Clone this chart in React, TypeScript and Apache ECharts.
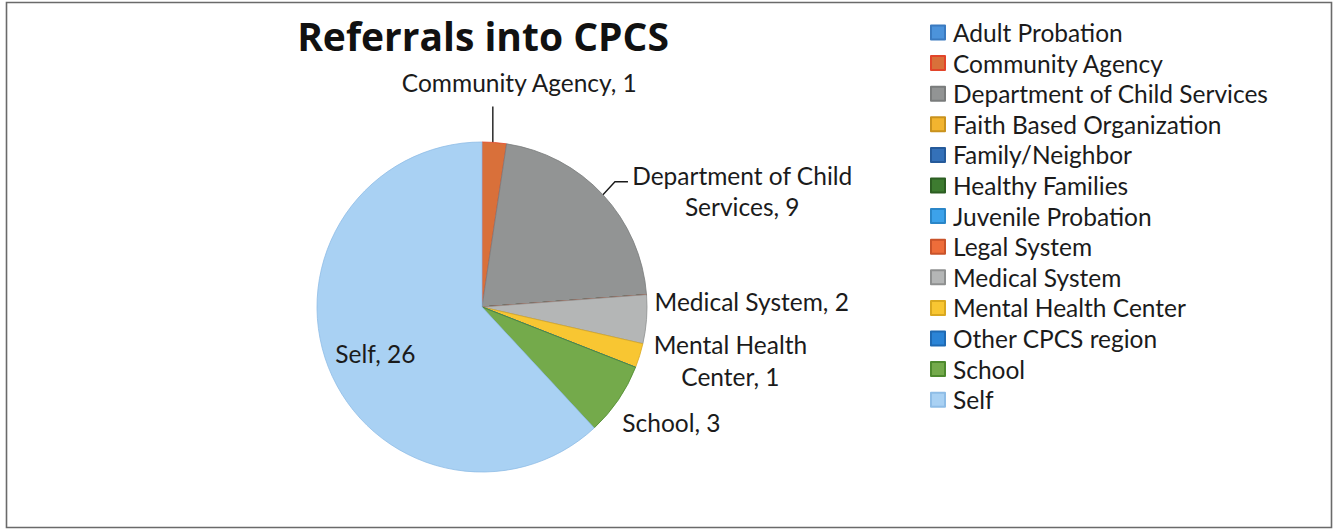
import React, { useEffect, useRef } from "react";
import * as echarts from "echarts";

const TITLE = "Referrals into CPCS";

const CATEGORIES = [
  "Adult Probation",
  "Community Agency",
  "Department of Child Services",
  "Faith Based Organization",
  "Family/Neighbor",
  "Healthy Families",
  "Juvenile Probation",
  "Legal System",
  "Medical System",
  "Mental Health Center",
  "Other CPCS region",
  "School",
  "Self",
];

const VALUES = [0, 1, 9, 0, 0, 0, 0, 0, 2, 1, 0, 3, 26];

const WRAPPED_NAMES: Record<string, string> = {
  "Department of Child Services": "Department of Child\nServices",
  "Mental Health Center": "Mental Health\nCenter",
};

const COLORS = [
  "#4C93DB",
  "#D9703A",
  "#929494",
  "#F2B42F",
  "#3471B9",
  "#3D7B30",
  "#3CA2EA",
  "#EE6D3A",
  "#B4B6B6",
  "#F8C632",
  "#2B84D6",
  "#74AA4B",
  "#A9D1F3",
];

const EDGE_COLORS = [
  "#3A7AC0",
  "#E2452A",
  "#7A7C7C",
  "#C9921E",
  "#255A9A",
  "#2C5E22",
  "#2A86C8",
  "#C9532A",
  "#8E9090",
  "#D9A820",
  "#1F6AB3",
  "#4E8A2E",
  "#8FBDE6",
];

const FONT = "Lato, 'Open Sans', sans-serif";
const TITLE_FONT = "'Open Sans', Lato, sans-serif";
const TEXT_COLOR = "#1b1b1b";
const TEXT_SIZE = 24.5;

export default function App() {
  const ref = useRef<HTMLDivElement>(null);

  useEffect(() => {
    if (!ref.current) return;
    const chart = echarts.init(ref.current, null, { renderer: "svg" });

    const data = CATEGORIES.map((name, i) => {
      const v = VALUES[i];
      const item: any = {
        name,
        value: v,
        itemStyle: { color: COLORS[i], borderColor: EDGE_COLORS[i], borderWidth: 0.8 },
      };
      if (v === 0) {
        item.label = { show: false };
        item.labelLine = { show: false };
      } else if (name === "Self") {
        item.label = { position: "inside" };
        item.labelLine = { show: false };
      } else if (name === "Community Agency" || name === "Department of Child Services") {
        item.labelLine = {
          show: true,
          length: 20,
          length2: 10,
          lineStyle: { color: "#1a1a1a", width: 1.4 },
        };
      } else {
        item.labelLine = { show: true, length: 3, length2: 3, lineStyle: { opacity: 0 } };
      }
      return item;
    });

    const labelLayout = (p: any) => {
      const name = CATEGORIES[p.dataIndex];
      if (name === "Self") {
        const r = p.labelRect;
        return {
          x: r.x + r.width / 2 - 27,
          y: r.y + r.height / 2 + 15,
          align: "center",
          verticalAlign: "middle",
        };
      }
      const pts = p.labelLinePoints;
      if (!pts || !pts[0]) return {};
      const x0 = pts[0][0];
      const y0 = pts[0][1];
      switch (name) {
        case "Community Agency":
          return {
            x: x0 + 25,
            y: y0 - 60,
            align: "center",
            verticalAlign: "middle",
            labelLinePoints: [
              [x0 - 1.5, y0],
              [x0 - 1.5, y0 - 36],
            ],
          };
        case "Department of Child Services":
          return {
            x: x0 + 29,
            y: y0 - 4,
            align: "left",
            verticalAlign: "middle",
            labelLinePoints: [
              [x0, y0],
              [x0 + 12, y0 - 13],
              [x0 + 25, y0 - 13],
            ],
          };
        case "Medical System":
          return { x: x0 + 8, y: y0 - 18, align: "left", verticalAlign: "middle" };
        case "Mental Health Center":
          return { x: x0 + 14, y: y0 + 5, align: "left", verticalAlign: "middle" };
        case "School":
          return { x: x0 + 4, y: y0 + 23, align: "left", verticalAlign: "middle" };
        default:
          return {};
      }
    };

    chart.setOption({
      animation: false,
      backgroundColor: "#ffffff",
      title: {
        text: TITLE,
        left: 478,
        top: 11,
        textAlign: "center",
        textStyle: {
          fontFamily: TITLE_FONT,
          fontWeight: "bold",
          fontSize: 39,
          color: "#111111",
        },
      },
      legend: {
        orient: "vertical",
        left: 925,
        top: 15,
        itemWidth: 14,
        itemHeight: 14,
        itemGap: 5.6,
        icon: "rect",
        data: CATEGORIES,
        textStyle: {
          fontFamily: FONT,
          fontSize: TEXT_SIZE,
          lineHeight: 24.5,
          color: TEXT_COLOR,
          padding: [0, 0, 0, 3],
        },
      },
      graphic: [
        {
          type: "rect",
          shape: { x: 6.5, y: 2.5, width: 1325, height: 525 },
          style: { fill: "none", stroke: "#6a6a6a", lineWidth: 1.6 },
          silent: true,
        },
      ],
      series: [
        {
          type: "pie",
          center: [482, 307],
          radius: 165,
          startAngle: 90,
          clockwise: true,
          avoidLabelOverlap: false,
          data,
          label: {
            show: true,
            position: "outside",
            fontFamily: FONT,
            fontSize: TEXT_SIZE,
            color: TEXT_COLOR,
            formatter: (params: any) => {
              const base = WRAPPED_NAMES[params.name] || params.name;
              const text = `${base}, ${params.value}`;
              return text
                .split("\n")
                .map((l) => `{c|${l}}`)
                .join("\n");
            },
            rich: {
              c: {
                align: "center",
                fontFamily: FONT,
                fontSize: TEXT_SIZE,
                lineHeight: 31.5,
                color: TEXT_COLOR,
              },
            },
          },
          labelLayout,
          emphasis: { disabled: true },
        },
      ],
    });

    return () => {
      chart.dispose();
    };
  }, []);

  return (
    <div
      ref={ref}
      style={{ position: "absolute", left: 0, top: 0, width: 1334, height: 529 }}
    />
  );
}
